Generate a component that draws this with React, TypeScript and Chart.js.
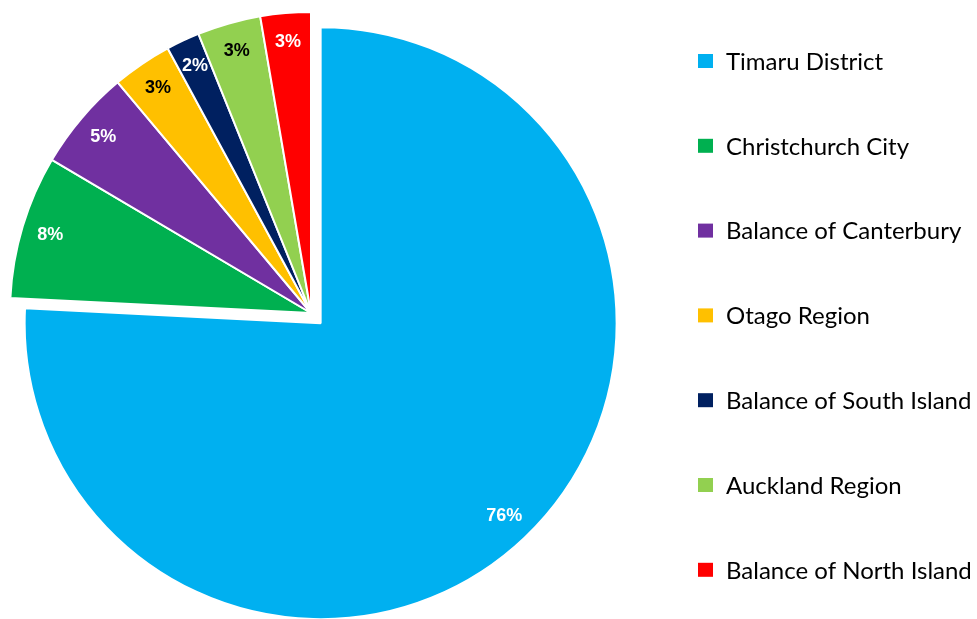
import React, { useEffect, useRef } from "react";
import { Chart, registerables } from "chart.js";

Chart.register(...registerables);

const categories = [
  "Timaru District",
  "Christchurch City",
  "Balance of Canterbury",
  "Otago Region",
  "Balance of South Island",
  "Auckland Region",
  "Balance of North Island",
];
const shares = [75.8, 7.7, 5.4, 3.2, 1.8, 3.4, 2.7];
const sliceColors = ["#00B0F0", "#00B050", "#7030A0", "#FFC000", "#002060", "#92D050", "#FF0000"];
const valueLabelColors = ["#FFFFFF", "#FFFFFF", "#FFFFFF", "#000000", "#FFFFFF", "#000000", "#FFFFFF"];
const explodedIndex = 0;
const explodeDistance = 14;
const explodedShrink = 5;

// Pull the exploded slice out along its mid-angle (like Excel's point explosion)
const explodeSlice = {
  id: "explodeSlice",
  afterDatasetsUpdate(chart: any) {
    const arc = chart.getDatasetMeta(0).data[explodedIndex];
    if (!arc) return;
    const mid = (arc.startAngle + arc.endAngle) / 2;
    arc.x += Math.cos(mid) * explodeDistance;
    arc.y += Math.sin(mid) * explodeDistance;
    arc.outerRadius -= explodedShrink;
  },
};

const sliceLabels = {
  id: "sliceLabels",
  afterDatasetsDraw(chart: any) {
    const ctx = chart.ctx;
    const meta = chart.getDatasetMeta(0);
    ctx.save();
    ctx.font = "bold 18px 'Liberation Sans', Arial, sans-serif";
    ctx.textAlign = "center";
    ctx.textBaseline = "middle";
    meta.data.forEach((arc: any, i: number) => {
      const { x, y, startAngle, endAngle, outerRadius } = arc;
      const mid = (startAngle + endAngle) / 2;
      const r = outerRadius * (i === explodedIndex ? 0.9 : 0.905);
      ctx.fillStyle = valueLabelColors[i];
      ctx.fillText(Math.round(shares[i]) + "%", x + Math.cos(mid) * r, y + Math.sin(mid) * r);
    });
    ctx.restore();
  },
};

const sideLegend = {
  id: "sideLegend",
  afterDraw(chart: any) {
    const ctx = chart.ctx;
    const labels = chart.data.labels as string[];
    const bg = chart.data.datasets[0].backgroundColor as string[];
    const boxX = 698;
    const textX = 726;
    const top = 61;
    const step = 84.8;
    ctx.save();
    ctx.font = "24px Lato, 'Open Sans', sans-serif";
    ctx.textAlign = "left";
    ctx.textBaseline = "middle";
    labels.forEach((lab, i) => {
      const cy = top + i * step;
      ctx.fillStyle = bg[i];
      ctx.fillRect(boxX, cy - 7, 15, 14);
      ctx.fillStyle = "#000000";
      ctx.fillText(lab, textX, cy + 1);
    });
    ctx.restore();
  },
};

export default function App() {
  const ref = useRef<HTMLCanvasElement>(null);
  useEffect(() => {
    if (!ref.current) return;
    const chart = new Chart(ref.current, {
      type: "pie",
      data: {
        labels: categories,
        datasets: [
          {
            data: shares,
            backgroundColor: sliceColors,
            borderColor: "#FFFFFF",
            borderWidth: 2,
            clip: false,
          } as any,
        ],
      },
      options: {
        responsive: false,
        animation: false,
        events: [],
        radius: 301,
        layout: { padding: { left: 0, right: 355, top: 7, bottom: 0 } },
        plugins: {
          legend: { display: false },
          tooltip: { enabled: false },
        },
      } as any,
      plugins: [explodeSlice, sliceLabels, sideLegend],
    });
    return () => chart.destroy();
  }, []);
  return (
    <div style={{ position: "fixed", left: 0, top: 0, width: 977, height: 619, background: "#fff" }}>
      <canvas ref={ref} width={977} height={619} style={{ display: "block" }} />
    </div>
  );
}
